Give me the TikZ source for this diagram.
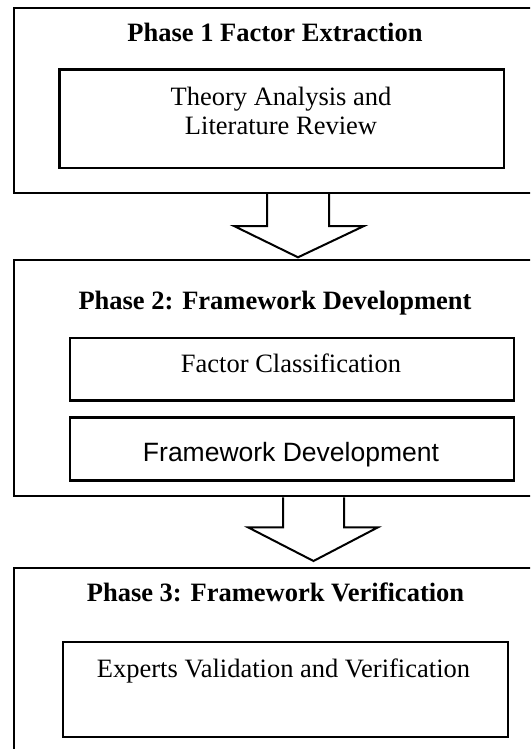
\documentclass[tikz,border=0pt]{standalone}
\usepackage{fontspec}
\setmainfont{Liberation Serif}
\newfontfamily\arialfont{Liberation Sans}
\begin{document}
\begin{tikzpicture}[x=1pt,y=-1pt,
  outerbox/.style={draw,line width=2.4pt,inner sep=0pt,anchor=north west},
  innerbox/.style={draw,line width=2.2pt,inner sep=0pt,anchor=north west},
  titletext/.style={font=\fontsize{26.5}{30}\selectfont\bfseries,anchor=base,inner sep=0pt},
  bodytext/.style={font=\fontsize{26.5}{28.5}\selectfont,anchor=base,inner sep=0pt,align=center},
  blockarrow/.style={draw,line width=2pt,fill=white,line join=miter}]
\useasboundingbox (0,0) rectangle (530,749);
\clip (0,0) rectangle (530,749);
% outer phase boxes
\node[outerbox,minimum width=525pt,minimum height=185pt] (p1) at (12.7,6.8) {};
\node[outerbox,minimum width=525pt,minimum height=236pt] (p2) at (12.7,259) {};
\node[outerbox,minimum width=525pt,minimum height=200pt] (p3) at (12.7,566.5) {};
% inner boxes
\node[innerbox,minimum width=444.6pt,minimum height=98.5pt] (b1) at (58.4,68.5) {};
\node[innerbox,minimum width=444pt,minimum height=62.5pt] (b2) at (68.5,336.8) {};
\node[innerbox,minimum width=444pt,minimum height=63pt] (b3) at (68.5,416.3) {};
\node[innerbox,minimum width=445pt,minimum height=95pt] (b4) at (61.5,640.7) {};
% titles
\node[titletext] (t1) at (275,42) {Phase 1 Factor Extraction};
\node[titletext] (t2) at (275,309.5) {Phase 2: Framework Development};
\node[titletext] (t3) at (275.5,601.5) {Phase 3: Framework Verification};
% texts
\node[bodytext] (x1) at (281,134.5) {Theory Analysis and\\Literature Review};
\node[bodytext] (x2) at (291,372.5) {Factor Classification};
\node[bodytext,font=\fontsize{26.5}{30}\arialfont] (x3) at (291,461) {Framework Development};
\node[bodytext] (x4) at (283.5,677) {Experts Validation and Verification};
% block arrows
\draw[blockarrow] (267,0 |- p1.south) -- (267,226) -- (234,226) -- (298,257.3)
  -- (364,226) -- (329,226) -- (329,0 |- p1.south);
\draw[blockarrow] (283,0 |- p2.south) -- (283,527.3) -- (248,527.3) -- (313.5,561)
  -- (378,527.3) -- (344,527.3) -- (344,0 |- p2.south);
\end{tikzpicture}
\end{document}
